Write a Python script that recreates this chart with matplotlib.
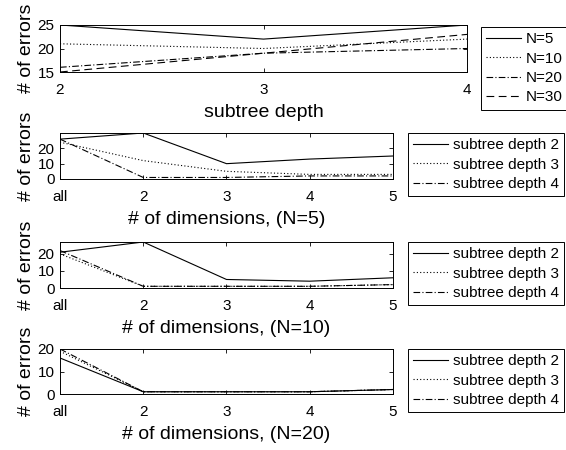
import matplotlib.pyplot as plt

plt.rcParams['font.family'] = ['Liberation Sans', 'DejaVu Sans']

# top panel: errors vs subtree depth
depths = [2, 3, 4]
n_labels = ['N=5', 'N=10', 'N=20', 'N=30']
err_n5 = [25, 22, 25]
err_n10 = [21, 20, 22]
err_n20 = [16, 19, 20]
err_n30 = [15, 19, 23]

# lower panels: errors vs # of dimensions
dim_pos = [1, 2, 3, 4, 5]
dim_labels = ['all', '2', '3', '4', '5']
depth_labels = ['subtree depth 2', 'subtree depth 3', 'subtree depth 4']

n5_d2 = [26, 30, 10, 13, 15]
n5_d3 = [24, 12, 5, 3, 3]
n5_d4 = [26, 1, 1, 2, 2]

n10_d2 = [21, 27, 5, 4, 6]
n10_d3 = [20, 1, 1, 1, 2]
n10_d4 = [22, 1, 1, 1, 2]

n20_d2 = [16, 1, 1, 1, 2]
n20_d3 = [19, 1, 1, 1, 2]
n20_d4 = [20, 1, 1, 1, 2]

W, H = 566, 450
styles = ['-', (0, (1, 2)), (0, (6, 2, 1, 2)), (0, (7, 4))]
LW = 0.8
TICK_FS = 11
LABEL_FS = 14
LEG_FS = 11


def px_axes(fig, left, right, top, bottom):
    return fig.add_axes([left / W, 1 - bottom / H, (right - left) / W, (bottom - top) / H])


def style_axes(ax):
    ax.tick_params(direction='in', top=True, right=True, labelsize=TICK_FS,
                   length=3, width=0.6)
    ax.tick_params(axis='x', pad=8)
    ax.tick_params(axis='y', pad=4)
    for s in ax.spines.values():
        s.set_linewidth(0.7)


def add_legend(fig, ax, left, top):
    leg = ax.legend(loc='upper left', bbox_to_anchor=(left / W, 1 - top / H),
                    bbox_transform=fig.transFigure, fontsize=LEG_FS,
                    fancybox=False, edgecolor='black', framealpha=1,
                    handlelength=2.3, handletextpad=0.3, labelspacing=0.35,
                    borderpad=0.35, borderaxespad=0)
    leg.get_frame().set_linewidth(0.7)


fig = plt.figure(figsize=(W / 100, H / 100), dpi=100)

# panel 1
ax1 = px_axes(fig, 60, 467, 25, 72)
for vals, lab, ls in zip([err_n5, err_n10, err_n20, err_n30], n_labels, styles):
    ax1.plot(depths, vals, color='black', linestyle=ls, linewidth=LW, label=lab)
ax1.set_xlim(2, 4)
ax1.set_ylim(15, 25)
ax1.set_xticks(depths)
ax1.set_yticks([15, 20, 25])
ax1.set_xlabel('subtree depth', fontsize=LABEL_FS, labelpad=5)
ax1.set_ylabel('# of errors', fontsize=LABEL_FS, labelpad=2)
style_axes(ax1)
add_legend(fig, ax1, 481, 27)

# panels 2-4
panels = [
    ((133, 179), [n5_d2, n5_d3, n5_d4], 30, '# of dimensions, (N=5)'),
    ((242, 288), [n10_d2, n10_d3, n10_d4], 27, '# of dimensions, (N=10)'),
    ((349, 394), [n20_d2, n20_d3, n20_d4], 20, '# of dimensions, (N=20)'),
]
for (top, bottom), series, ymax, xlab in panels:
    ax = px_axes(fig, 60, 393, top, bottom)
    for vals, lab, ls in zip(series, depth_labels, styles[:3]):
        ax.plot(dim_pos, vals, color='black', linestyle=ls, linewidth=LW, label=lab)
    ax.set_xlim(1, 5)
    ax.set_ylim(0, ymax)
    ax.set_xticks(dim_pos)
    ax.set_xticklabels(dim_labels)
    ax.set_yticks([0, 10, 20])
    ax.set_xlabel(xlab, fontsize=LABEL_FS, labelpad=5)
    ax.set_ylabel('# of errors', fontsize=LABEL_FS, labelpad=2)
    style_axes(ax)
    add_legend(fig, ax, 408, top)

fig.savefig('out.png', dpi=100)
